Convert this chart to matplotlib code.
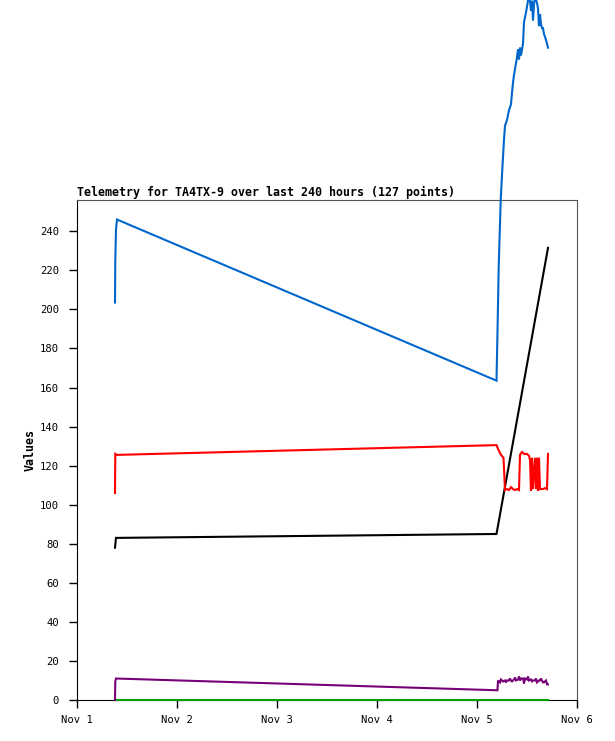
import matplotlib
matplotlib.use("Agg")
import matplotlib.pyplot as plt
import pandas as pd

# hours after 2023-11-01 00:00 -> value
blue_h = [9.12, 9.19, 9.36, 9.6, 100.68, 100.8, 101.04, 101.21, 101.45, 101.69,
          101.93, 102.24, 102.48, 102.72, 103.2, 103.68, 104.16, 104.4, 104.64,
          104.88, 105.36, 105.6, 105.84, 106.08, 106.32, 106.56, 107.04, 107.28,
          107.76, 108.24, 108.48, 108.72, 108.96, 109.2, 109.44, 109.68, 109.92,
          110.4, 110.64, 110.88, 111.12, 111.36, 111.6, 111.84, 112.08, 112.56,
          112.8, 113.04]
blue_v = [203.5, 225, 241, 246, 163.5, 176, 202, 222, 239, 256,
          266, 278, 287, 294, 297, 302, 305, 311, 316,
          320, 326, 329, 333, 328, 334, 330, 336, 347,
          352, 358, 361, 358, 353, 358, 348, 356, 360,
          357, 354, 345, 351, 346, 344, 344, 341, 338,
          336, 334]

red_h = [9.12, 9.19, 9.6, 100.68, 101.16, 101.76, 102.36, 102.72, 103.2, 103.68,
         104.16, 104.64, 105.12, 105.6, 106.08, 106.32, 106.8, 107.28, 108.0,
         108.48, 108.72, 108.96, 109.2, 109.44, 109.92, 110.16, 110.4, 110.64,
         110.88, 111.12, 111.36, 111.84, 112.32, 112.8, 113.04]
red_v = [106, 126, 125.5, 130.5, 128, 125.5, 124, 107.5, 108, 107.5,
         109, 108, 107.5, 108, 107.5, 125.5, 127, 126, 126,
         125, 123, 107, 124, 108, 124, 108, 124, 107,
         124, 108, 108, 108, 108.5, 108, 126]

black_h = [9.12, 9.36, 100.68, 113.04]
black_v = [78, 83, 85, 231.5]

purple_h = [9.12, 9.19, 9.36, 100.68, 100.92, 101.04, 101.52, 101.76, 102.24, 102.72,
            102.96, 103.2, 103.68, 103.92, 104.16, 104.4, 104.88, 105.12, 105.36,
            105.84, 106.08, 106.32, 106.56, 107.04, 107.28, 107.52, 108.0, 108.24,
            108.48, 108.96, 109.2, 109.44, 109.92, 110.16, 110.4, 110.88, 111.12,
            111.36, 111.6, 111.84, 112.08, 112.56, 112.8, 113.04]
purple_v = [0, 9.5, 11, 5, 5, 10, 9, 10.5, 9.5, 10,
            9, 10, 10, 11, 10, 9.5, 10.5, 11.5, 10,
            10.5, 12, 10, 11, 11, 8.5, 11, 10.5, 12,
            10, 10.5, 9.5, 10, 10, 11, 9, 10, 10,
            11, 10, 9, 9, 10, 8, 8]

green_h = [9.12, 113.04]
green_v = [0, 0]

start = pd.Timestamp("2023-11-01")
tick_days = pd.date_range("2023-11-01", "2023-11-06", freq="D")
tick_labels = ["Nov 1", "Nov 2", "Nov 3", "Nov 4", "Nov 5", "Nov 6"]


def to_time(hours):
    return start + pd.to_timedelta(hours, unit="h")


mono = "DejaVu Sans Mono"
fig = plt.figure(figsize=(6.15, 7.41), dpi=100)
ax = fig.add_axes([77 / 615, 41 / 741, 500 / 615, 500 / 741])

series = [
    (green_h, green_v, "#00a000"),
    (purple_h, purple_v, "#770077"),
    (black_h, black_v, "#000000"),
    (red_h, red_v, "#ff0000"),
    (blue_h, blue_v, "#0066cc"),
]
for hrs, vals, col in series:
    ax.plot(to_time(hrs), vals, color=col, lw=1.5, clip_on=False, zorder=3,
            solid_joinstyle="miter")

ax.set_xlim(tick_days[0], tick_days[-1])
ax.set_ylim(0, 256)
ax.set_xticks(tick_days)
ax.set_xticklabels(tick_labels)
ax.set_yticks(range(0, 241, 20))

for lab in ax.get_xticklabels() + ax.get_yticklabels():
    lab.set_family(mono)
    lab.set_fontsize(7.6)
ax.tick_params(axis="both", direction="out", length=6, width=1, color="black")
ax.tick_params(axis="y", pad=7)
ax.tick_params(axis="x", pad=5)

for side in ("left", "bottom"):
    ax.spines[side].set_color("black")
for side in ("top", "right"):
    ax.spines[side].set_color("#555555")

ax.set_ylabel("Values", family=mono, fontweight="bold", fontsize=8.4, labelpad=2)
ax.set_title("Telemetry for TA4TX-9 over last 240 hours (127 points)",
             loc="left", family=mono, fontweight="bold", fontsize=8.4, pad=3)

fig.savefig("out.png", dpi=100)
